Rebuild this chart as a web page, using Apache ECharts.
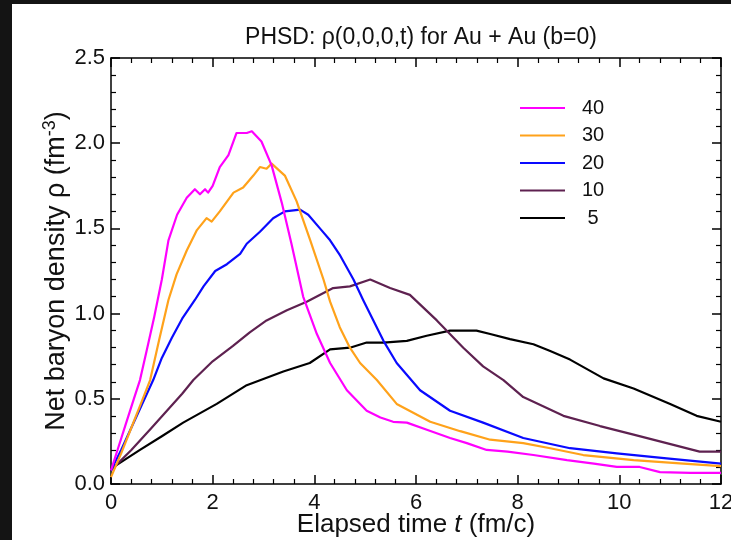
<!DOCTYPE html>
<html>
<head>
<meta charset="utf-8">
<script src="https://cdn.jsdelivr.net/npm/echarts@6/dist/echarts.min.js"></script>
<style>
html,body{margin:0;padding:0;width:731px;height:540px;background:#141414;overflow:hidden;}
#main{position:absolute;left:12px;top:4px;width:719px;height:536px;background:#fff;}
</style>
</head>
<body>
<div id="main"></div>
<script>
// Series names (legend labels)
const names = ['40', '30', '20', '10', '5'];

// Elapsed time t (fm/c) and net baryon density (fm^-3) per series
const time40 = [0, 0.15, 0.3, 0.45, 0.57, 0.7, 0.85, 1.0, 1.13, 1.3, 1.49, 1.65, 1.75, 1.85, 1.91, 2.0, 2.14, 2.31, 2.47, 2.67, 2.77, 2.96, 3.16, 3.36, 3.55, 3.78, 4.05, 4.31, 4.64, 5.03, 5.3, 5.55, 5.82, 6.2, 6.67, 7.0, 7.39, 7.8, 8.31, 8.97, 9.5, 9.95, 10.4, 10.8, 11.4, 12];
const rho40  = [0.08, 0.22, 0.36, 0.5, 0.61, 0.78, 0.98, 1.2, 1.43, 1.58, 1.68, 1.73, 1.70, 1.73, 1.71, 1.75, 1.86, 1.93, 2.06, 2.06, 2.07, 2.01, 1.87, 1.65, 1.41, 1.10, 0.88, 0.71, 0.55, 0.43, 0.39, 0.365, 0.36, 0.32, 0.27, 0.24, 0.20, 0.19, 0.17, 0.14, 0.12, 0.10, 0.10, 0.07, 0.065, 0.065];

const time30 = [0, 0.2, 0.4, 0.6, 0.77, 0.95, 1.13, 1.29, 1.49, 1.69, 1.88, 1.98, 2.14, 2.41, 2.6, 2.8, 2.93, 3.06, 3.16, 3.42, 3.65, 3.92, 4.18, 4.31, 4.5, 4.7, 4.9, 5.23, 5.62, 6.28, 6.87, 7.46, 8.11, 8.64, 9.29, 10.28, 11.26, 12];
const rho30  = [0.04, 0.18, 0.33, 0.48, 0.61, 0.85, 1.08, 1.23, 1.37, 1.49, 1.56, 1.54, 1.60, 1.71, 1.74, 1.81, 1.86, 1.85, 1.88, 1.81, 1.66, 1.43, 1.20, 1.07, 0.92, 0.80, 0.71, 0.61, 0.47, 0.365, 0.31, 0.26, 0.24, 0.21, 0.17, 0.14, 0.12, 0.105];

const time20 = [0, 0.2, 0.4, 0.6, 0.83, 1.0, 1.2, 1.4, 1.65, 1.82, 2.05, 2.28, 2.54, 2.67, 2.93, 3.19, 3.42, 3.72, 3.88, 4.11, 4.31, 4.51, 4.77, 4.96, 5.36, 5.62, 6.08, 6.67, 7.32, 8.11, 9.03, 9.95, 10.93, 12];
const rho20  = [0.08, 0.2, 0.33, 0.46, 0.61, 0.74, 0.86, 0.97, 1.08, 1.16, 1.25, 1.29, 1.35, 1.41, 1.48, 1.56, 1.60, 1.61, 1.58, 1.50, 1.43, 1.34, 1.20, 1.08, 0.84, 0.71, 0.55, 0.43, 0.36, 0.27, 0.21, 0.18, 0.15, 0.12];

const time10 = [0, 0.4, 0.8, 1.1, 1.4, 1.62, 2.0, 2.4, 2.73, 3.06, 3.46, 3.85, 4.37, 4.7, 5.1, 5.49, 5.88, 6.41, 6.93, 7.32, 7.72, 8.11, 8.9, 9.62, 10.28, 10.93, 11.58, 12];
const rho10  = [0.08, 0.2, 0.33, 0.43, 0.53, 0.61, 0.72, 0.81, 0.89, 0.96, 1.02, 1.07, 1.15, 1.16, 1.20, 1.15, 1.11, 0.96, 0.80, 0.69, 0.61, 0.51, 0.40, 0.34, 0.29, 0.24, 0.19, 0.19];

const time5 = [0, 0.57, 1.0, 1.42, 2.08, 2.67, 3.39, 3.91, 4.31, 4.7, 5.03, 5.36, 5.82, 6.21, 6.67, 7.19, 7.46, 7.85, 8.31, 8.64, 9.03, 9.69, 10.28, 11.0, 11.52, 12];
const rho5  = [0.09, 0.20, 0.28, 0.36, 0.47, 0.58, 0.66, 0.71, 0.79, 0.80, 0.83, 0.83, 0.84, 0.87, 0.90, 0.90, 0.88, 0.85, 0.82, 0.78, 0.73, 0.62, 0.56, 0.47, 0.40, 0.365];

const times = [time40, time30, time20, time10, time5];
const rhos = [rho40, rho30, rho20, rho10, rho5];
const colors = ['#ff00ff', '#ffa21a', '#0a0aff', '#5e2150', '#000000'];

const FONT = '"Liberation Sans", Arial, Helvetica, sans-serif';

function pairs(xs, ys) { return xs.map((x, i) => [x, ys[i]]); }

const axisCommon = {
  type: 'value',
  nameMoveOverlap: false,
  axisLine: { show: true, onZero: false, lineStyle: { color: '#000', width: 1.5 } },
  axisTick: { show: true, inside: true, length: 9, lineStyle: { color: '#000', width: 1.5 } },
  minorTick: { show: true, splitNumber: 5, length: 5, lineStyle: { color: '#000', width: 1.2 } },
  splitLine: { show: false },
  minorSplitLine: { show: false }
};

const chart = echarts.init(document.getElementById('main'), null, { renderer: 'canvas' });

const option = {
  backgroundColor: '#ffffff',
  animation: false,
  textStyle: { fontFamily: FONT },
  title: {
    text: 'PHSD: ρ(0,0,0,t) for Au + Au (b=0)',
    left: 409,
    top: 22,
    padding: 0,
    textAlign: 'center',
    textStyle: { fontFamily: FONT, fontSize: 23, fontWeight: 'normal', color: '#111' }
  },
  legend: {
    orient: 'vertical',
    left: 508,
    top: 94,
    padding: 0,
    itemWidth: 45,
    itemHeight: 2,
    itemGap: 7.5,
    icon: 'rect',
    data: names,
    formatter: function (n) { return '{a|' + n + '}'; },
    textStyle: {
      fontFamily: FONT, fontSize: 20, color: '#111', lineHeight: 20,
      padding: [0, 0, 0, 12],
      rich: { a: { width: 22, align: 'center', fontFamily: FONT, fontSize: 20, color: '#111' } }
    }
  },
  grid: { left: 99, top: 54, right: 10, bottom: 56, containLabel: false, outerBoundsMode: 'none' },
  xAxis: [
    Object.assign({}, axisCommon, {
      min: 0, max: 12, interval: 2, position: 'bottom',
      axisLabel: { show: true, margin: 8, fontFamily: FONT, fontSize: 22, color: '#111' },
      name: '{n|Elapsed time }{i|t}{n| (fm/c)}',
      nameLocation: 'middle',
      nameGap: 28,
      nameTextStyle: {
        rich: {
          n: { fontFamily: FONT, fontSize: 26, color: '#111' },
          i: { fontFamily: FONT, fontSize: 26, fontStyle: 'italic', color: '#111' }
        }
      }
    }),
    Object.assign({}, axisCommon, {
      min: 0, max: 12, interval: 2, position: 'top',
      axisLabel: { show: false }
    })
  ],
  yAxis: [
    Object.assign({}, axisCommon, {
      min: 0, max: 2.5, interval: 0.5, position: 'left',
      axisLabel: { show: true, margin: 6, fontFamily: FONT, fontSize: 22, color: '#111',
        formatter: function (v) { return v.toFixed(1); } },
      name: '{n|Net baryon density ρ (fm}{s|-3}{n|)}',
      nameLocation: 'middle',
      nameRotate: 90,
      nameGap: 38,
      nameTextStyle: {
        rich: {
          n: { fontFamily: FONT, fontSize: 27, color: '#111', lineHeight: 32 },
          s: { fontFamily: FONT, fontSize: 18, color: '#111', verticalAlign: 'top', lineHeight: 32 }
        }
      }
    }),
    Object.assign({}, axisCommon, {
      min: 0, max: 2.5, interval: 0.5, position: 'right',
      axisLabel: { show: false }
    })
  ],
  series: names.map((n, i) => ({
    name: n,
    type: 'line',
    xAxisIndex: 0,
    yAxisIndex: 0,
    data: pairs(times[i], rhos[i]),
    showSymbol: false,
    symbol: 'none',
    smooth: false,
    lineStyle: { color: colors[i], width: 2.2, join: 'round' },
    itemStyle: { color: colors[i] },
    z: 10 - i
  }))
};

chart.setOption(option);
</script>
</body>
</html>
